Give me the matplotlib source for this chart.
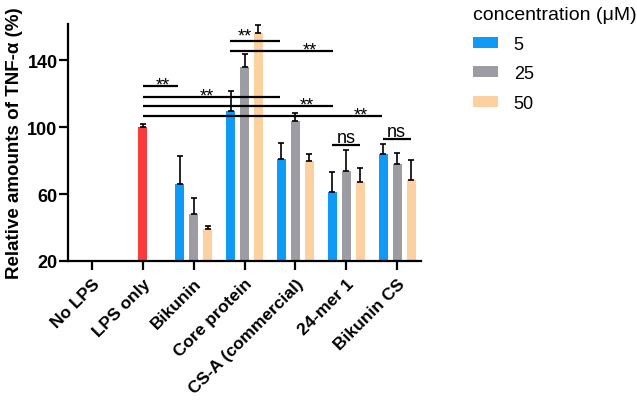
import numpy as np
import matplotlib.pyplot as plt
from matplotlib.patches import Patch

plt.rcParams['font.family'] = ['Liberation Sans', 'DejaVu Sans']

# DATA ---------
categories = ['No LPS', 'LPS only', 'Bikunin', 'Core protein',
              'CS-A (commercial)', '24-mer 1', 'Bikunin CS']
conc_labels = ['5', '25', '50']
lps_only_val = 100.0
lps_only_err = 2.0
# groups: Bikunin, Core protein, CS-A, 24-mer 1, Bikunin CS
mean_5 = [66.1, 109.5, 80.7, 61.0, 83.7]
mean_25 = [48.0, 135.6, 103.4, 74.0, 78.1]
mean_50 = [39.3, 156.3, 79.7, 67.0, 68.4]
err_5 = [16.4, 11.8, 9.7, 12.0, 6.0]
err_25 = [9.6, 7.8, 5.1, 12.0, 6.4]
err_50 = [1.7, 4.4, 4.2, 8.3, 12.1]

# significance bars: (x start, x end, y, label)
sig_bars = [
    (1.0, 1.69, 124.5, '**'),
    (1.0, 3.70, 118.0, '**'),
    (1.0, 4.74, 112.4, '**'),
    (1.0, 5.70, 106.4, '**'),
    (2.72, 3.70, 151.3, '**'),
    (2.72, 4.74, 145.2, '**'),
    (4.72, 5.28, 89.3, 'ns'),
    (5.72, 6.28, 92.8, 'ns'),
]
sig_text_x = [1.40, 2.26, 4.23, 5.28, 3.01, 4.29, 5.0, 5.98]

colors = ['#0f9bf5', '#9d9ca3', '#fdd09f']
red = '#f93b3d'

# PLOT ---------
fig = plt.figure(figsize=(6.37, 4.02), dpi=100)
ax = fig.add_axes([68 / 637, 140 / 402, 353 / 637, 237 / 402])

w = 0.18
off = 0.275
ekw = dict(ecolor='black', lw=1.2, capsize=2.5, capthick=1.2)
ax.bar(1, lps_only_val, width=w, color=red,
       yerr=[[0], [lps_only_err]], error_kw=ekw)

gx = np.arange(2, 7)
for i, (m, e) in enumerate([(mean_5, err_5), (mean_25, err_25), (mean_50, err_50)]):
    ax.bar(gx + (i - 1) * off, m, width=w, color=colors[i],
           yerr=[np.zeros(len(e)), e], error_kw=ekw)

for k, ((x0, x1, y, lab), tx) in enumerate(zip(sig_bars, sig_text_x)):
    ax.plot([x0, x1], [y, y], color='black', lw=1.6, solid_capstyle='butt')
    if lab == '**':
        dy = 0.5 if k == 4 else -2.0
        ax.text(tx, y + dy, lab, ha='center', va='baseline', fontsize=13)
    else:
        ax.text(tx, y + 1.8, lab, ha='center', va='baseline', fontsize=13)

ax.set_xlim(-0.47, 6.47)
ax.set_ylim(20, 161.5)
ax.set_yticks([20, 60, 100, 140])
ax.set_xticks(range(len(categories)))
ax.set_xticklabels(categories, rotation=45, ha='right', va='top',
                   rotation_mode='anchor', fontsize=12.5, fontweight='bold')
for t in ax.get_yticklabels():
    t.set_fontweight('bold')
    t.set_fontsize(13)
ax.set_ylabel('Relative amounts of TNF-α (%)', fontsize=13.5, fontweight='bold', labelpad=3)

for s in ['top', 'right']:
    ax.spines[s].set_visible(False)
for s in ['left', 'bottom']:
    ax.spines[s].set_linewidth(1.6)
ax.tick_params(axis='both', width=1.6, length=6.5, color='black')
ax.tick_params(axis='y', pad=1)
ax.tick_params(axis='x', pad=4)

handles = [Patch(facecolor=c, edgecolor='none') for c in colors]
leg = fig.legend(handles, conc_labels, title='concentration (μM)', loc='upper left',
                 bbox_to_anchor=(464 / 637, 1.005), frameon=False, fontsize=13,
                 title_fontsize=14, handlelength=1.4, handleheight=0.55,
                 labelspacing=0.7, handletextpad=0.85, borderaxespad=0.1)
leg._legend_box.align = 'left'

fig.savefig('out.png', dpi=100)
